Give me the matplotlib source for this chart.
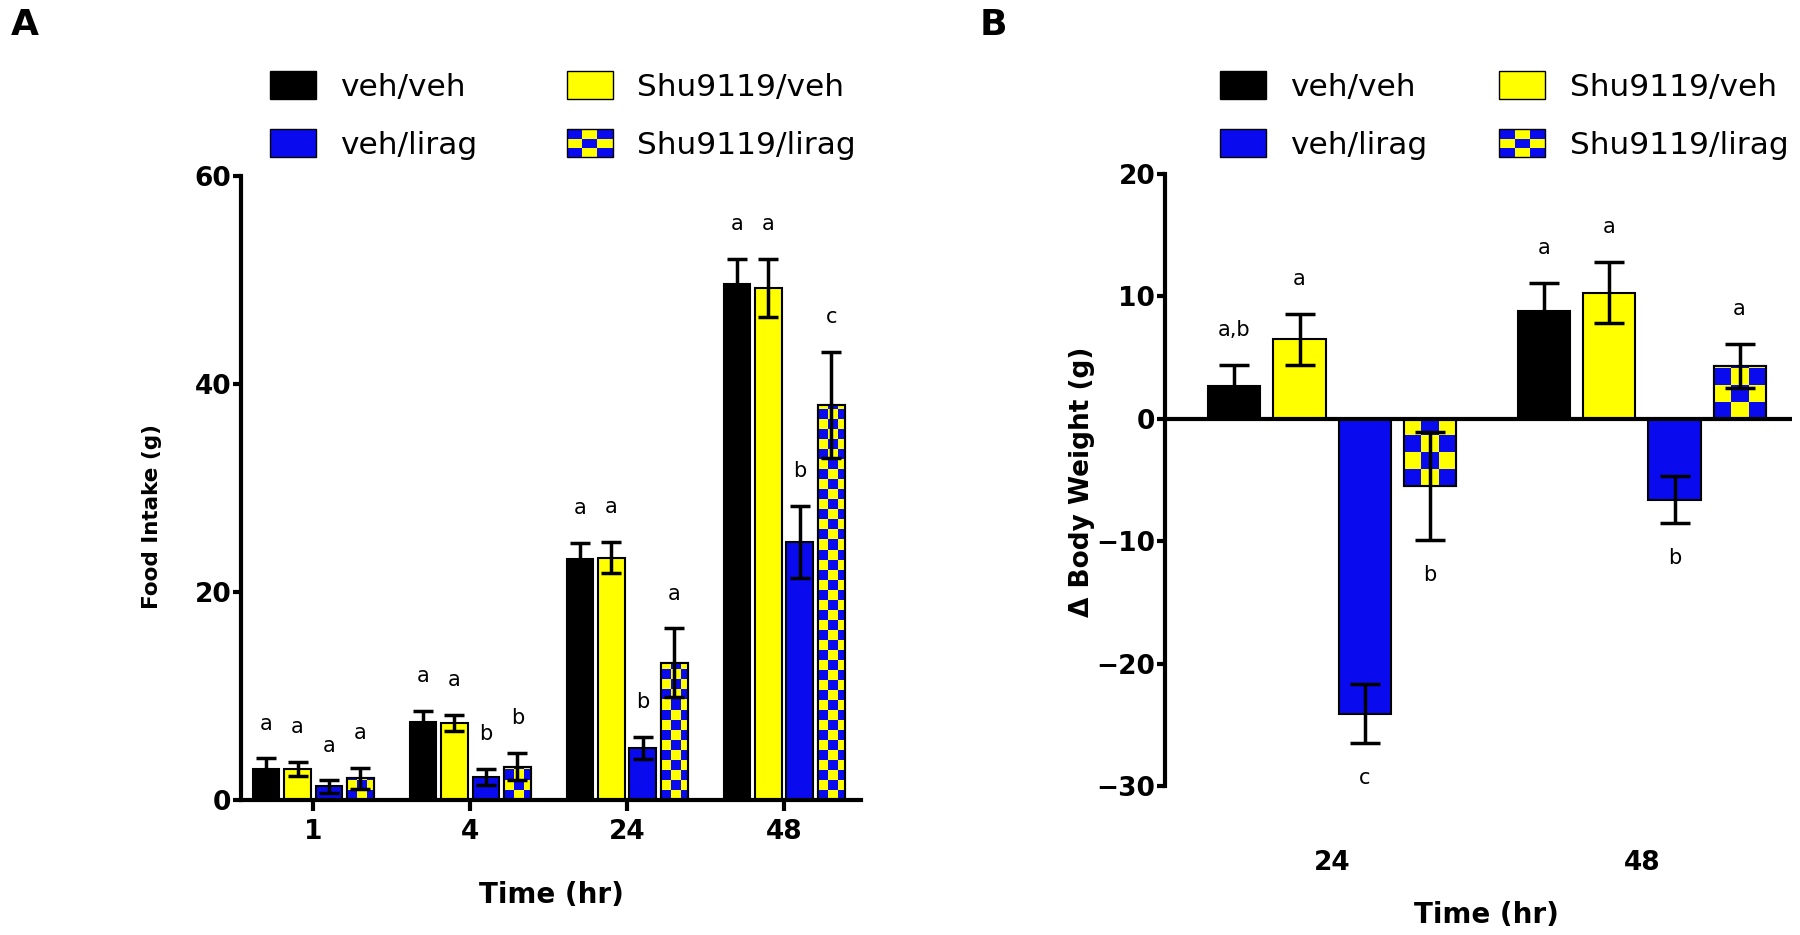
import numpy as np
import matplotlib
matplotlib.use("Agg")
import matplotlib.pyplot as plt
from matplotlib.patches import Rectangle
from matplotlib.legend_handler import HandlerBase
from matplotlib.colors import ListedColormap

# Dados
groups = ["veh/veh", "veh/lirag", "Shu9119/veh", "Shu9119/lirag"]
bar_order = ["veh/veh", "Shu9119/veh", "veh/lirag", "Shu9119/lirag"]

# Painel A: consumo alimentar
food_times = ["1", "4", "24", "48"]
food_veh_veh = [3.0, 7.5, 23.2, 49.6]
food_shu_veh = [3.0, 7.4, 23.3, 49.2]
food_veh_lirag = [1.3, 2.2, 5.0, 24.8]
food_shu_lirag = [2.1, 3.2, 13.2, 38.0]
food_veh_veh_err = [1.0, 1.1, 1.5, 2.4]
food_shu_veh_err = [0.7, 0.8, 1.5, 2.8]
food_veh_lirag_err = [0.6, 0.8, 1.1, 3.5]
food_shu_lirag_err = [1.0, 1.3, 3.3, 5.1]
food_letters = [["a", "a", "a", "a"], ["a", "a", "b", "b"],
                ["a", "a", "b", "a"], ["a", "a", "b", "c"]]

# Painel B: variação de peso corporal
bw_times = ["24", "48"]
bw_veh_veh = [2.7, 8.8]
bw_shu_veh = [6.5, 10.3]
bw_veh_lirag = [-24.1, -6.6]
bw_shu_lirag = [-5.5, 4.3]
bw_veh_veh_err = [1.7, 2.3]
bw_shu_veh_err = [2.1, 2.5]
bw_veh_lirag_err = [2.4, 1.9]
bw_shu_lirag_err = [4.4, 1.8]
bw_letters = [["a,b", "a", "c", "b"], ["a", "a", "b", "a"]]

BLUE = "#0a0aee"
YELLOW = "#ffff00"
colors = {"veh/veh": "black", "Shu9119/veh": YELLOW, "veh/lirag": BLUE,
          "Shu9119/lirag": YELLOW}


class CheckerHandler(HandlerBase):
    def create_artists(self, legend, orig_handle, xdescent, ydescent,
                       width, height, fontsize, trans):
        arts = []
        n = 3
        cw, ch = width / n, height / n
        for i in range(n):
            for j in range(n):
                c = BLUE if (i + j) % 2 == 0 else YELLOW
                arts.append(Rectangle((-xdescent + i * cw, -ydescent + j * ch),
                                      cw, ch, facecolor=c, edgecolor="none",
                                      transform=trans))
        arts.append(Rectangle((-xdescent, -ydescent), width, height,
                              facecolor="none", edgecolor="black", lw=1,
                              transform=trans))
        return arts


def checker_fill(ax, bars, cell_px):
    cmap = ListedColormap([BLUE, YELLOW])
    for bar in bars:
        x0, w = bar.get_x(), bar.get_width()
        y0, h = bar.get_y(), bar.get_height()
        p0 = ax.transData.transform((x0, y0))
        p1 = ax.transData.transform((x0 + w, y0 + h))
        wpx, hpx = abs(p1 - p0)
        nc = int(np.ceil(wpx / cell_px))
        nr = int(np.ceil(hpx / cell_px))
        dx = cell_px * w / wpx
        dy = cell_px * abs(h) / hpx
        ybot = min(y0, y0 + h)
        arr = np.add.outer(np.arange(nr), np.arange(nc)) % 2
        im = ax.imshow(arr, extent=(x0, x0 + nc * dx, ybot, ybot + nr * dy),
                       cmap=cmap, aspect="auto", interpolation="nearest",
                       origin="lower", zorder=1.5)
        im.set_clip_path(bar)


def draw_panel(ax, values, errs, letters, width, pitch, cell_px, capsize,
               letter_off):
    x = np.arange(len(values[0]))
    xlim, ylim = ax.get_xlim(), ax.get_ylim()
    for k, name in enumerate(bar_order):
        pos = x + (k - 1.5) * pitch
        bars = ax.bar(pos, values[k], width, color=colors[name],
                      edgecolor="black", linewidth=1.5, zorder=1)
        if name == "Shu9119/lirag":
            checker_fill(ax, bars, cell_px)
            ax.bar(pos, values[k], width, fill=False, edgecolor="black",
                   linewidth=1.5, zorder=2)
        ax.errorbar(pos, values[k], yerr=errs[k], fmt="none", ecolor="black",
                    elinewidth=2.5, capsize=capsize, capthick=2.5, zorder=3)
        for g in range(len(x)):
            v, e = values[k][g], errs[k][g]
            if v < 0:
                yy, off = v - e, -letter_off
            else:
                yy, off = v + e, letter_off
            ax.annotate(letters[g][k], (pos[g], yy), xytext=(0, off),
                        textcoords="offset points", ha="center", va="center",
                        fontsize=15, zorder=4)
    ax.set_xlim(xlim)
    ax.set_ylim(ylim)


def make_legend(fig, x, y, colspace):
    handles = [Rectangle((0, 0), 1, 1, facecolor="black", edgecolor="black"),
               Rectangle((0, 0), 1, 1, facecolor=BLUE, edgecolor="black"),
               Rectangle((0, 0), 1, 1, facecolor=YELLOW, edgecolor="black"),
               Rectangle((0, 0), 1, 1, facecolor="none", edgecolor="black")]
    fig.legend(handles, groups, loc="upper left", bbox_to_anchor=(x, y),
               ncol=2, frameon=False, fontsize=22.5, handlelength=1.47,
               handleheight=1.0, handletextpad=0.78, columnspacing=colspace,
               labelspacing=0.88, borderpad=0, borderaxespad=0,
               handler_map={handles[3]: CheckerHandler()})


def style_axes(ax):
    for s in ["top", "right"]:
        ax.spines[s].set_visible(False)
    for s in ["left", "bottom"]:
        ax.spines[s].set_linewidth(3)
    ax.tick_params(axis="y", length=6, width=3, pad=1, labelsize=19)
    for lab in ax.get_yticklabels():
        lab.set_fontweight("bold")


def main():
    fig = plt.figure(figsize=(18, 9.35), dpi=100)
    W, H = 1800, 935

    # Painel A
    axA = fig.add_axes([241 / W, 1 - 800 / H, 620 / W, 624 / H])
    axA.set_xlim(-0.46, 3.49)
    axA.set_ylim(0, 60)
    axA.set_yticks([0, 20, 40, 60])
    style_axes(axA)
    axA.set_xticks(np.arange(4))
    axA.set_xticklabels(food_times, fontsize=19, fontweight="bold")
    axA.tick_params(axis="x", length=8, width=3, pad=6)
    food_vals = [food_veh_veh, food_shu_veh, food_veh_lirag, food_shu_lirag]
    food_errs = [food_veh_veh_err, food_shu_veh_err, food_veh_lirag_err,
                 food_shu_lirag_err]
    draw_panel(axA, food_vals, food_errs, food_letters, 0.17, 0.2, 10, 7, 25)
    axA.set_ylabel("Food Intake (g)", fontsize=15.5, fontweight="bold")
    axA.yaxis.set_label_coords(-0.128, 0.454)
    axA.set_xlabel("Time (hr)", fontsize=20, fontweight="bold")
    axA.xaxis.set_label_coords(0.5, -0.13)

    # Painel B
    axB = fig.add_axes([1165 / W, 1 - 786 / H, 627 / W, 612 / H])
    axB.set_xlim(-0.539, 1.484)
    axB.set_ylim(-30, 20)
    axB.set_yticks([-30, -20, -10, 0, 10, 20])
    style_axes(axB)
    axB.spines["bottom"].set_visible(False)
    axB.axhline(0, color="black", linewidth=3, zorder=2.5)
    axB.set_xticks(np.arange(2))
    axB.set_xticklabels(bw_times, fontsize=19, fontweight="bold")
    axB.tick_params(axis="x", length=0, pad=46)
    bw_vals = [bw_veh_veh, bw_shu_veh, bw_veh_lirag, bw_shu_lirag]
    bw_errs = [bw_veh_veh_err, bw_shu_veh_err, bw_veh_lirag_err,
               bw_shu_lirag_err]
    draw_panel(axB, bw_vals, bw_errs, bw_letters, 0.168, 0.21, 17, 11, 25)
    axB.set_ylabel("\u0394 Body Weight (g)", fontsize=19, fontweight="bold")
    axB.yaxis.set_label_coords(-0.112, 0.497)
    axB.set_xlabel("Time (hr)", fontsize=20, fontweight="bold")
    axB.xaxis.set_label_coords(0.513, -0.188)

    # Legendas
    make_legend(fig, 270 / W, 1 - 71 / H, 2.85)
    make_legend(fig, 1220 / W, 1 - 71 / H, 2.3)

    # Letras dos painéis
    fig.text(25 / W, 1 - 25 / H, "A", fontsize=26, fontweight="bold",
             ha="center", va="center")
    fig.text(993 / W, 1 - 25 / H, "B", fontsize=26, fontweight="bold",
             ha="center", va="center")

    fig.savefig("out.png", dpi=100)


if __name__ == "__main__":
    main()
